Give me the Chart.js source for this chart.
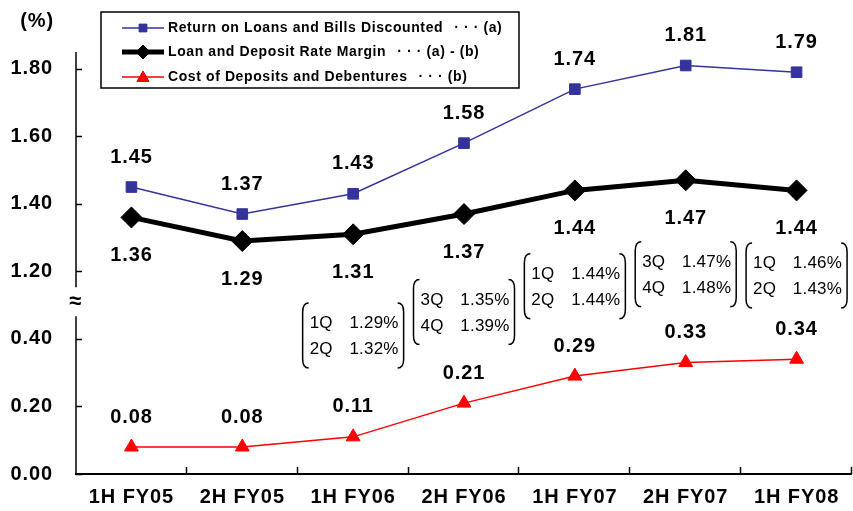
<!DOCTYPE html>
<html>
<head>
<meta charset="utf-8">
<script src="https://cdn.jsdelivr.net/npm/chart.js@4/dist/chart.umd.min.js"></script>
<style>
  html, body { margin: 0; padding: 0; background: #ffffff; }
  #wrap { position: relative; width: 853px; height: 511px; }
</style>
</head>
<body>
<div id="wrap"><canvas id="c" width="853" height="511"></canvas></div>
<script>
// ---------- data ----------
const categories = ['1H FY05', '2H FY05', '1H FY06', '2H FY06', '1H FY07', '2H FY07', '1H FY08'];
const returnOnLoans = [1.45, 1.37, 1.43, 1.58, 1.74, 1.81, 1.79];
const rateMargin = [1.36, 1.29, 1.31, 1.37, 1.44, 1.47, 1.44];
const costOfDeposits = [0.08, 0.08, 0.11, 0.21, 0.29, 0.33, 0.34];
const yTickValues = [0.00, 0.20, 0.40, 1.20, 1.40, 1.60, 1.80];
const seriesNames = ['Return on Loans and Bills Discounted', 'Loan and Deposit Rate Margin', 'Cost of Deposits and Debentures'];
const seriesNotes = ['(a)', '(a) - (b)', '(b)'];
const quarterCategories = ['1H FY06', '2H FY06', '1H FY07', '2H FY07', '1H FY08'];
const quarterNamesA = ['1Q', '3Q', '1Q', '3Q', '1Q'];
const quarterValuesA = [1.29, 1.35, 1.44, 1.47, 1.46];
const quarterNamesB = ['2Q', '4Q', '2Q', '4Q', '2Q'];
const quarterValuesB = [1.32, 1.39, 1.44, 1.48, 1.43];

// ---------- broken axis mapping ----------
const BREAK_LOW = 0.40, BREAK_HIGH = 1.20, BREAK_STEP = 0.20;
const AXIS_GAP = BREAK_HIGH - BREAK_LOW - BREAK_STEP;
const toAxis = v => (v >= BREAK_HIGH ? v - AXIS_GAP : v);
const fromAxis = a => (a > BREAK_LOW + BREAK_STEP / 2 ? a + AXIS_GAP : a);

// ---------- layout / style (not data) ----------
const FONT = "'Liberation Sans', Arial, sans-serif";
const BLUE = '#333399', RED = '#ff0000', BLACK = '#000000';
const labelOffsets = [-30, 38, -30];
const quarterBoxCenterAxis = [0.410, 0.480, 0.556, 0.592, 0.588]; // vertical anchor in axis units

const spacingPlugin = {
  id: 'spacing',
  beforeDraw(chart) { chart.ctx.letterSpacing = '0.9px'; }
};

const chartAxisPlugin = {
  id: 'customAxes',
  afterDraw(chart) {
    const ctx = chart.ctx;
    const ca = chart.chartArea;
    const ys = chart.scales.y;
    ctx.save();
    ctx.strokeStyle = BLACK;
    ctx.lineWidth = 1.5;
    // y axis with break
    const breakY = ys.getPixelForValue(BREAK_LOW + BREAK_STEP / 2) - 3;
    ctx.beginPath();
    ctx.moveTo(ca.left, ca.top); ctx.lineTo(ca.left, breakY - 15);
    ctx.moveTo(ca.left, breakY + 14); ctx.lineTo(ca.left, ca.bottom);
    ctx.stroke();
    yTickValues.forEach(v => {
      const y = Math.round(ys.getPixelForValue(toAxis(v))) + 0.5;
      ctx.beginPath(); ctx.moveTo(ca.left, y); ctx.lineTo(ca.left + 6, y); ctx.stroke();
    });
    // x axis
    ctx.lineWidth = 2;
    ctx.beginPath(); ctx.moveTo(ca.left - 1, ca.bottom); ctx.lineTo(ca.right, ca.bottom); ctx.stroke();
    ctx.lineWidth = 1.5;
    const cw = (ca.right - ca.left) / categories.length;
    for (let i = 1; i <= categories.length; i++) {
      const x = Math.round(ca.left + i * cw) - 0.5;
      ctx.beginPath(); ctx.moveTo(x, ca.bottom); ctx.lineTo(x, ca.bottom - 7); ctx.stroke();
    }
    // break symbol
    ctx.fillStyle = BLACK;
    ctx.letterSpacing = '0px';
    ctx.font = 'bold 22px ' + FONT;
    ctx.textAlign = 'center'; ctx.textBaseline = 'middle';
    ctx.fillText('\u2248', ca.left - 1, breakY);
    // unit label
    ctx.letterSpacing = '0.9px';
    ctx.font = 'bold 20px ' + FONT;
    ctx.textAlign = 'right';
    ctx.fillText('(%)', 54, 21);
    ctx.restore();
  }
};

const valueLabelPlugin = {
  id: 'valueLabels',
  afterDatasetsDraw(chart) {
    const ctx = chart.ctx;
    const raw = [returnOnLoans, rateMargin, costOfDeposits];
    ctx.save();
    ctx.fillStyle = BLACK;
    ctx.letterSpacing = '0.9px';
    ctx.font = 'bold 20px ' + FONT;
    ctx.textAlign = 'center'; ctx.textBaseline = 'middle';
    chart.data.datasets.forEach((ds, di) => {
      chart.getDatasetMeta(di).data.forEach((pt, i) => {
        ctx.fillText(raw[di][i].toFixed(2), pt.x, pt.y + labelOffsets[di]);
      });
    });
    // quarter boxes
    const xs = chart.scales.x, ys = chart.scales.y;
    quarterCategories.forEach((cat, i) => {
      const cx = xs.getPixelForValue(categories.indexOf(cat));
      const cy = ys.getPixelForValue(quarterBoxCenterAxis[i]);
      const w = 101, h = 65;
      const l = cx - w / 2, r = cx + w / 2, t = cy - h / 2, b = cy + h / 2;
      ctx.strokeStyle = BLACK; ctx.lineWidth = 1.5;
      ctx.beginPath();
      ctx.moveTo(l + 6, t); ctx.quadraticCurveTo(l, t, l, t + 9);
      ctx.lineTo(l, b - 9); ctx.quadraticCurveTo(l, b, l + 6, b);
      ctx.moveTo(r - 6, t); ctx.quadraticCurveTo(r, t, r, t + 9);
      ctx.lineTo(r, b - 9); ctx.quadraticCurveTo(r, b, r - 6, b);
      ctx.stroke();
      ctx.letterSpacing = '0.2px';
      ctx.font = '17px ' + FONT;
      ctx.textAlign = 'left';
      ctx.fillText(quarterNamesA[i], l + 7, cy - 12);
      ctx.fillText(quarterNamesB[i], l + 7, cy + 14);
      ctx.textAlign = 'right';
      ctx.fillText(quarterValuesA[i].toFixed(2) + '%', r - 5, cy - 12);
      ctx.fillText(quarterValuesB[i].toFixed(2) + '%', r - 5, cy + 14);
    });
    ctx.restore();
  }
};

const legendPlugin = {
  id: 'boxLegend',
  afterDraw(chart) {
    const ctx = chart.ctx;
    const box = { l: 101, t: 12, r: 519, b: 88 };
    const rowsY = [28, 52, 77];
    const colors = [BLUE, BLACK, RED];
    const widths = [1.5, 5, 1.5];
    const styles = ['rect', 'rectRot', 'triangle'];
    const radii = [5.5, 7, 7];
    ctx.save();
    ctx.fillStyle = '#ffffff';
    ctx.fillRect(box.l, box.t, box.r - box.l, box.b - box.t);
    ctx.strokeStyle = BLACK; ctx.lineWidth = 1.5;
    ctx.strokeRect(box.l, box.t, box.r - box.l, box.b - box.t);
    rowsY.forEach((y, i) => {
      ctx.strokeStyle = colors[i]; ctx.lineWidth = widths[i];
      ctx.beginPath(); ctx.moveTo(122, y); ctx.lineTo(164, y); ctx.stroke();
      ctx.fillStyle = colors[i]; ctx.lineWidth = 1;
      Chart.helpers.drawPoint(ctx, { pointStyle: styles[i], radius: radii[i], borderWidth: 1, rotation: 0 }, 143, y + (i === 2 ? 1 : 0));
      ctx.fill();
      ctx.fillStyle = BLACK;
      ctx.letterSpacing = '0.6px';
      ctx.font = 'bold 14px ' + FONT;
      ctx.textAlign = 'left'; ctx.textBaseline = 'middle';
      ctx.fillText(seriesNames[i], 168, y);
      const w = ctx.measureText(seriesNames[i]).width;
      ctx.fillText('\u00b7 \u00b7 \u00b7 ' + seriesNotes[i], 168 + w + 11, y);
    });
    ctx.restore();
  }
};

new Chart(document.getElementById('c'), {
  type: 'line',
  data: {
    labels: categories,
    datasets: [
      {
        label: seriesNames[0], data: returnOnLoans.map(toAxis),
        borderColor: BLUE, backgroundColor: BLUE, borderWidth: 1.5,
        pointStyle: 'rect', pointRadius: 7.5, pointBorderWidth: 1, tension: 0
      },
      {
        label: seriesNames[1], data: rateMargin.map(toAxis),
        borderColor: BLACK, backgroundColor: BLACK, borderWidth: 5,
        pointStyle: 'rectRot', pointRadius: 10.5, pointBorderWidth: 1, tension: 0
      },
      {
        label: seriesNames[2], data: costOfDeposits.map(toAxis),
        borderColor: RED, backgroundColor: RED, borderWidth: 1.5,
        pointStyle: 'triangle', pointRadius: 8, pointBorderWidth: 1, tension: 0
      }
    ]
  },
  options: {
    responsive: false,
    animation: false,
    clip: false,
    layout: { autoPadding: false, padding: { top: 52, right: 1, left: 0, bottom: 0 } },
    plugins: { legend: { display: false }, tooltip: { enabled: false } },
    scales: {
      x: {
        type: 'category',
        offset: true,
        grid: { display: false, drawTicks: false },
        border: { display: false },
        ticks: { color: BLACK, font: { family: FONT, size: 20, weight: 'bold' }, padding: 11, maxRotation: 0, autoSkip: false },
        afterFit(s) { s.height = 37; s.paddingLeft = 0; s.paddingRight = 0; }
      },
      y: {
        type: 'linear',
        min: 0, max: 1.25,
        grid: { display: false, drawTicks: false },
        border: { display: false },
        afterBuildTicks(s) { s.ticks = yTickValues.map(v => ({ value: toAxis(v) })); },
        ticks: {
          color: BLACK, padding: 23,
          font: { family: FONT, size: 20, weight: 'bold' },
          callback: v => fromAxis(v).toFixed(2)
        },
        afterFit(s) { s.width = 76; s.paddingTop = 0; s.paddingBottom = 0; }
      }
    }
  },
  plugins: [spacingPlugin, chartAxisPlugin, valueLabelPlugin, legendPlugin]
});
</script>
</body>
</html>
